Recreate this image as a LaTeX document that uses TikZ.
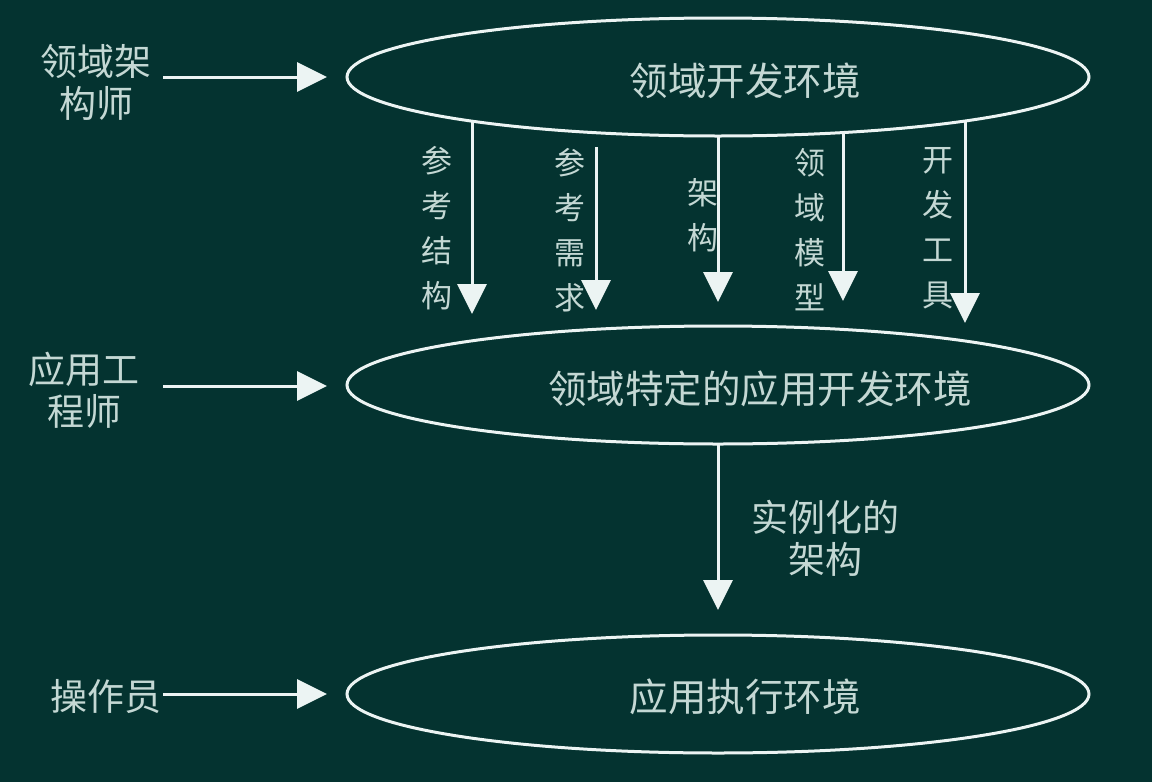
\documentclass[tikz,border=0pt]{standalone}
\usepackage{fontspec}
\setmainfont{Noto Sans CJK SC}
\usetikzlibrary{shapes.geometric,arrows.meta}
\definecolor{bg}{RGB}{4,51,48}
\definecolor{txt}{RGB}{196,216,212}
\definecolor{ln}{RGB}{236,244,243}
\begin{document}
\begin{tikzpicture}[x=1pt,y=-1pt,
  oval/.style={ellipse,draw=ln,line width=3pt,minimum width=742pt,minimum height=118pt,inner sep=0pt},
  bigtxt/.style={text=txt,font=\fontsize{38.5}{44}\selectfont,inner sep=0pt,align=center},
  sidetxt/.style={text=txt,font=\fontsize{37}{42}\selectfont,inner sep=0pt,align=center},
  vtxt/.style={text=txt,font=\fontsize{31}{45}\selectfont,inner sep=0pt,align=center},
  arr/.style={draw=ln,line width=3pt,-{Triangle[length=30pt,width=29pt]}}]
\fill[bg] (0,0) rectangle (1152,782);
\useasboundingbox (0,0) rectangle (1152,782);
% ellipses
\node[oval] (e1) at (718,77) {};
\node[oval] (e2) at (718,385) {};
\node[oval] (e3) at (718,694) {};
\node[bigtxt] (t1) at (745,81) {领域开发环境};
\node[bigtxt] (t2) at (760,389) {领域特定的应用开发环境};
\node[bigtxt] (t3) at (745,697) {应用执行环境};
% side labels
\node[sidetxt] (s1) at (96,82) {领域架\\构师};
\node[sidetxt] (s2) at (84,390) {应用工\\程师};
\node[sidetxt] (s3) at (106,697) {操作员};
\coordinate (l1a) at (163,77);  \coordinate (l1b) at (327,77);
\coordinate (l2a) at (163,386); \coordinate (l2b) at (327,386);
\coordinate (l3a) at (163,694); \coordinate (l3b) at (327,694);
\draw[arr] (l1a) -- (l1b);
\draw[arr] (l2a) -- (l2b);
\draw[arr] (l3a) -- (l3b);
% vertical arrows
\coordinate (v1a) at (472,122); \coordinate (v1b) at (472,314);
\coordinate (v2a) at (596,147); \coordinate (v2b) at (596,310);
\coordinate (v3a) at (718,136); \coordinate (v3b) at (718,302);
\coordinate (v4a) at (843,133); \coordinate (v4b) at (843,301);
\coordinate (v5a) at (965,122); \coordinate (v5b) at (965,323);
\draw[arr] (v1a) -- (v1b);
\draw[arr] (v2a) -- (v2b);
\draw[arr] (v3a) -- (v3b);
\draw[arr] (v4a) -- (v4b);
\draw[arr] (v5a) -- (v5b);
\node[vtxt] (lb1) at (437,228) {参\\考\\结\\构};
\node[vtxt] (lb2) at (570,230) {参\\考\\需\\求};
\node[vtxt] (lb3) at (703,215) {架\\构};
\node[vtxt] (lb4) at (810,230) {领\\域\\模\\型};
\node[vtxt] (lb5) at (938,228) {开\\发\\工\\具};
% bottom arrow
\coordinate (w1a) at (718,444); \coordinate (w1b) at (718,610);
\draw[arr] (w1a) -- (w1b);
\node[sidetxt] (lb6) at (825,538) {实例化的\\架构};
\end{tikzpicture}
\end{document}
